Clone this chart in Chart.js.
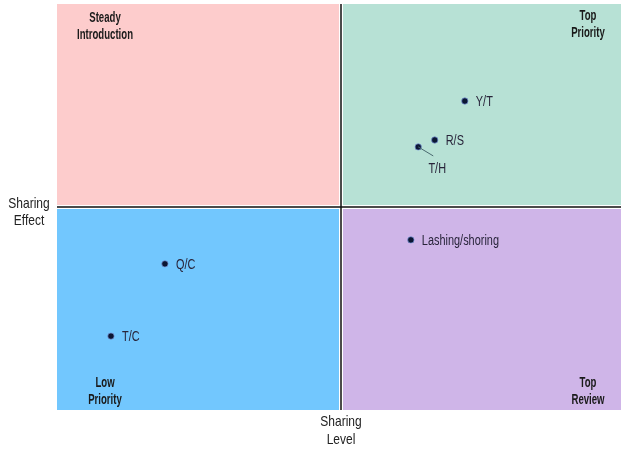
<!DOCTYPE html>
<html>
<head>
<meta charset="utf-8">
<script src="https://cdn.jsdelivr.net/npm/chart.js@4/dist/chart.umd.min.js"></script>
<style>
  html, body { margin: 0; padding: 0; background: #ffffff; overflow: hidden; }
  #wrap { width: 621px; height: 450px; overflow: hidden; }
</style>
</head>
<body>
<div id="wrap"><canvas id="c" width="625" height="450"></canvas></div>
<script>
// Items placed on the sharing level / sharing effect matrix
const itemNames   = ['Y/T', 'R/S', 'T/H', 'Lashing/shoring', 'Q/C', 'T/C'];
const sharingLevel  = [7.18, 6.65, 6.36, 6.23, 1.90, 0.95];
const sharingEffect = [7.61, 6.65, 6.48, 4.19, 3.60, 1.82];

// Quadrant names: top-left, top-right, bottom-left, bottom-right
const quadrantNames = [['Steady', 'Introduction'], ['Top', 'Priority'], ['Low', 'Priority'], ['Top', 'Review']];
const quadrantColors = ['#fdcccc', '#b7e1d5', '#72c7fe', '#cfb5e8'];
const axisTitleX = ['Sharing', 'Level'];
const axisTitleY = ['Sharing', 'Effect'];

const FONT = '"Liberation Sans", Arial, sans-serif';
const MID = 5;

// narrow text: draw with a horizontal squeeze
function narrowText(ctx, text, x, y, align, sx) {
  ctx.save();
  ctx.translate(x, y);
  ctx.scale(sx, 1);
  ctx.textAlign = align;
  ctx.fillText(text, 0, 0);
  ctx.restore();
}

const quadrantPlugin = {
  id: 'quadrants',
  beforeDatasetsDraw(chart) {
    const { ctx, chartArea: a, scales: { x, y } } = chart;
    const cx = x.getPixelForValue(MID);
    const cy = y.getPixelForValue(MID);
    const g = 2;
    ctx.save();
    ctx.fillStyle = quadrantColors[0]; ctx.fillRect(a.left, a.top, cx - g - a.left, cy - g - a.top);
    ctx.fillStyle = quadrantColors[1]; ctx.fillRect(cx + g, a.top, a.right - cx - g, cy - g - a.top);
    ctx.fillStyle = quadrantColors[2]; ctx.fillRect(a.left, cy + g, cx - g - a.left, a.bottom - cy - g);
    ctx.fillStyle = quadrantColors[3]; ctx.fillRect(cx + g, cy + g, a.right - cx - g, a.bottom - cy - g);
    // centre dividers
    ctx.strokeStyle = '#111111';
    ctx.lineWidth = 1.5;
    ctx.beginPath();
    ctx.moveTo(cx, a.top); ctx.lineTo(cx, a.bottom);
    ctx.moveTo(a.left, cy); ctx.lineTo(a.right, cy);
    ctx.stroke();

    // quadrant titles
    ctx.fillStyle = '#1a1a1a';
    ctx.font = 'bold 15px ' + FONT;
    ctx.textBaseline = 'middle';
    const put = (lines, px, py, sx, lh) => lines.forEach((t, i) => narrowText(ctx, t, px, py + i * lh, 'center', sx));
    put(quadrantNames[0], a.left + 48, a.top + 14, 0.64, 17);
    put(quadrantNames[1], a.right - 37, a.top + 12, 0.64, 17);
    put(quadrantNames[2], a.left + 48, a.bottom - 27, 0.64, 17);
    put(quadrantNames[3], a.right - 37, a.bottom - 27, 0.64, 17);

    // axis titles
    ctx.font = '15px ' + FONT;
    ctx.fillStyle = '#222222';
    put(axisTitleY, 29, cy - 3, 0.8, 17);
    put(axisTitleX, cx, a.bottom + 12, 0.8, 18);
    ctx.restore();
  },
  afterDatasetsDraw(chart) {
    const { ctx } = chart;
    const meta = chart.getDatasetMeta(0);
    ctx.save();
    ctx.font = '14px ' + FONT;
    ctx.fillStyle = '#28243a';
    ctx.textBaseline = 'middle';
    meta.data.forEach((pt, i) => {
      const name = itemNames[i];
      if (name === 'T/H') {
        // label placed below with a leader line
        ctx.strokeStyle = '#4a6a70';
        ctx.lineWidth = 1;
        ctx.beginPath();
        ctx.moveTo(pt.x, pt.y);
        ctx.lineTo(pt.x + 15, pt.y + 9);
        ctx.stroke();
        narrowText(ctx, name, pt.x + 19, pt.y + 22, 'center', 0.78);
      } else {
        narrowText(ctx, name, pt.x + 11, pt.y + 1, 'left', 0.78);
      }
    });
    ctx.restore();
  }
};

new Chart(document.getElementById('c'), {
  type: 'scatter',
  data: {
    datasets: [{
      data: sharingLevel.map((v, i) => ({ x: v, y: sharingEffect[i] })),
      pointRadius: 3.2,
      pointHoverRadius: 3.2,
      pointBackgroundColor: '#0b1633',
      pointBorderColor: 'rgba(120,150,220,0.7)',
      pointBorderWidth: 1
    }]
  },
  options: {
    responsive: false,
    animation: false,
    devicePixelRatio: 1,
    layout: { autoPadding: false, padding: { left: 57, top: 4, right: 0, bottom: 40 } },
    plugins: { legend: { display: false }, tooltip: { enabled: false } },
    scales: {
      x: { min: 0, max: 10, display: false },
      y: { min: 0, max: 10, display: false }
    }
  },
  plugins: [quadrantPlugin]
});
</script>
</body>
</html>
